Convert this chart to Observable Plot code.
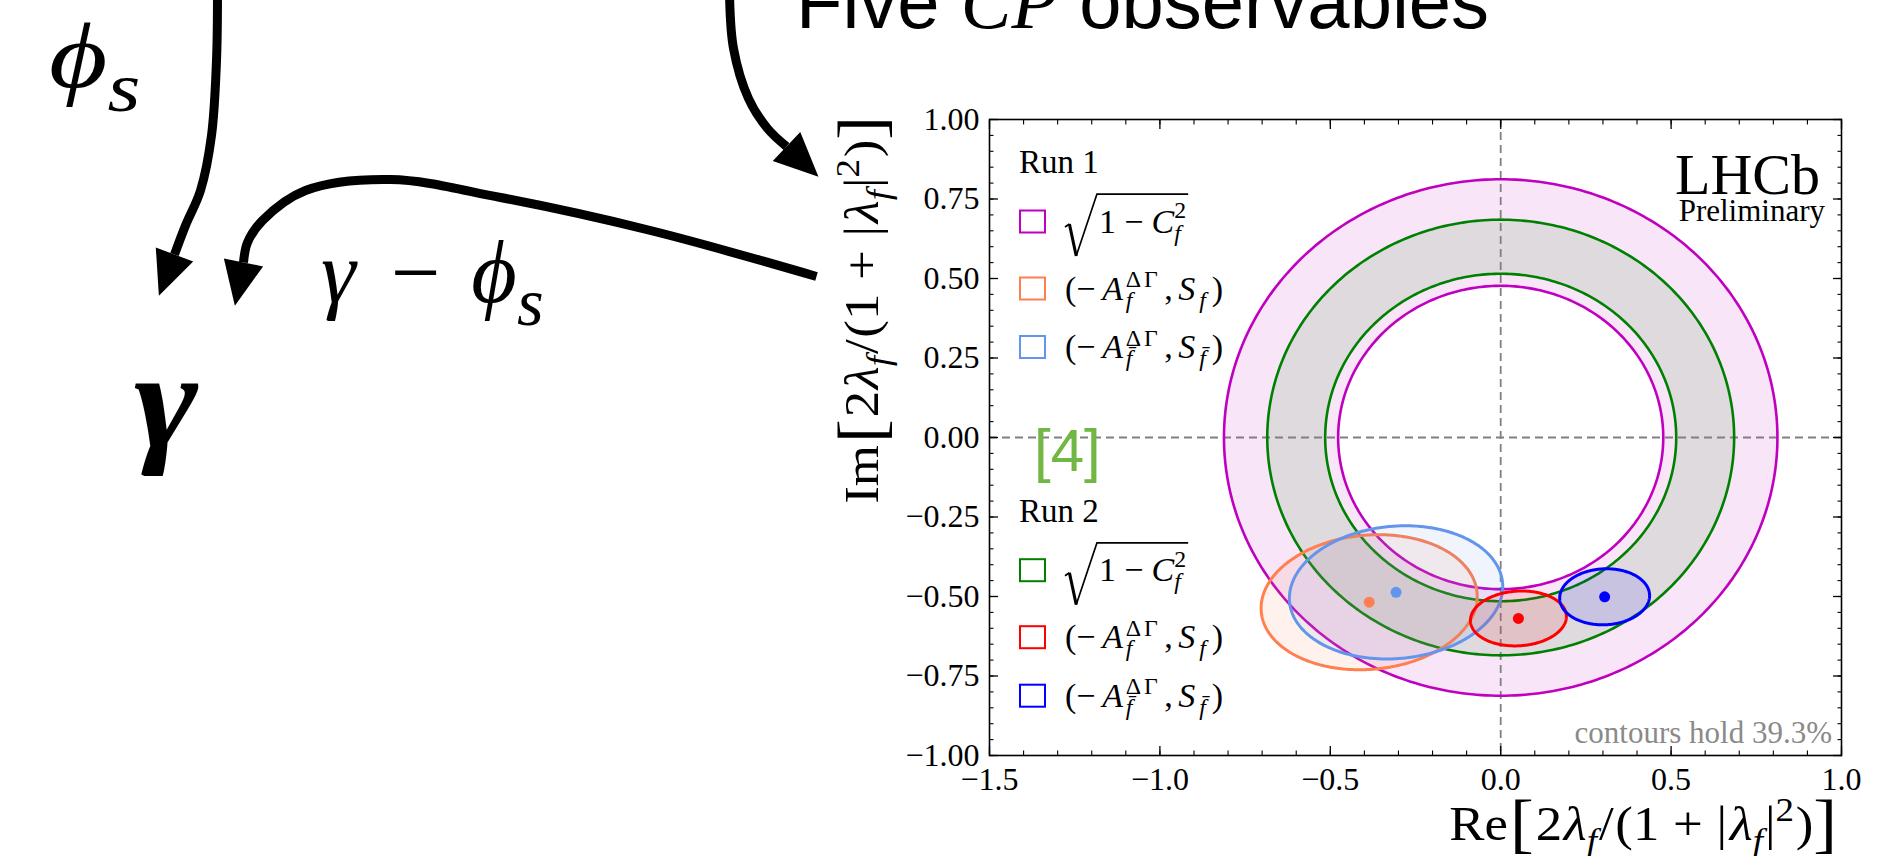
<!DOCTYPE html>
<html>
<head>
<meta charset="utf-8">
<script src="https://cdn.jsdelivr.net/npm/d3@7"></script>
<script src="https://cdn.jsdelivr.net/npm/@observablehq/plot@0.6"></script>
<style>
  html, body { margin: 0; padding: 0; background: #fff; }
  #page { position: relative; width: 1880px; height: 856px; overflow: hidden; background: #fff; }
  #page > svg { position: absolute; left: 0; top: 0; }
</style>
</head>
<body>
<div id="page"></div>
<script>
// ---- sqrt(1 - C_f^2) constraints: annuli centred on the origin ----
const ringRuns  = ["Run 1", "Run 2"];
const ringInner = [0.477, 0.515];
const ringOuter = [0.812, 0.685];
const ringColor = ["#bf00bf", "#008000"];

// ---- (−A^ΔΓ, S) contours: centre, half-widths, tilt (deg) ----
const contourNames = ["Run 1 f", "Run 1 fbar", "Run 2 f", "Run 2 fbar"];
const contourCx    = [-0.386, -0.307, 0.052, 0.305];
const contourCy    = [-0.518, -0.487, -0.569, -0.501];
const contourRx    = [0.318, 0.314, 0.141, 0.132];
const contourRy    = [0.211, 0.208, 0.086, 0.088];
const contourTilt  = [6, 6, 4, 3];
const contourColor = ["#ff7f50", "#6495ed", "#ff0000", "#0000ff"];

// ---- axis ticks ----
const xMajor = [-1.5, -1.0, -0.5, 0.0, 0.5, 1.0];
const yMajor = [-1.0, -0.75, -0.5, -0.25, 0.0, 0.25, 0.5, 0.75, 1.0];
const xMinor = d3.range(-15, 11).map(i => i / 10);
const yMinor = d3.range(-20, 21).map(i => i / 20);

// ---- hand-drawn arrows of the diagram (page pixels), each ends where its head starts ----
const arrowShafts = [
  {id: "phis",  pts: [[217, -8], [216, 60], [211, 135], [200, 190], [185, 225], [174, 254]]},
  {id: "gamma", pts: [[816, 276], [650, 230], [500, 197], [390, 179], [305, 190], [262, 220], [247, 242], [243, 262]]},
  {id: "five",  pts: [[729, -8], [733, 48], [748, 98], [767, 128], [786, 146]]}
];

const SERIF = "'Liberation Serif', 'Times New Roman', serif";
const SANS  = "'Liberation Sans', Arial, Helvetica, sans-serif";

// ---------- geometry for the marks ----------
const N = 360;
const angles = d3.range(N + 1).map(i => 2 * Math.PI * i / N);
const circle = r => angles.map(a => ({x: r * Math.cos(a), y: r * Math.sin(a)}));
const bands = ringRuns.map((run, k) => [
  ...circle(ringOuter[k]),
  ...circle(ringInner[k]).reverse()
]);
const ellipse = k => {
  const t = contourTilt[k] * Math.PI / 180;
  return angles.map(a => {
    const u = contourRx[k] * Math.cos(a), v = contourRy[k] * Math.sin(a);
    return {x: contourCx[k] + u * Math.cos(t) - v * Math.sin(t),
            y: contourCy[k] + u * Math.sin(t) + v * Math.cos(t)};
  });
};

const dashed = {stroke: "#808080", strokeWidth: 1.8, strokeDasharray: "8,5"};

const chart = Plot.plot({
  width: 1880, height: 856,
  marginLeft: 989, marginRight: 39, marginTop: 119, marginBottom: 101,
  x: {domain: [-1.5, 1.0]},
  y: {domain: [-1, 1]},
  style: {fontFamily: SERIF, fontSize: "32px", background: "transparent", color: "black", overflow: "visible"},
  marks: [
    ...bands.map((b, k) => Plot.line(b, {x: "x", y: "y", fill: ringColor[k], fillOpacity: 0.1, stroke: "none"})),
    Plot.ruleX([0], dashed),
    Plot.ruleY([0], dashed),
    ...ringRuns.flatMap((run, k) => [ringInner[k], ringOuter[k]].map(r =>
      Plot.line(circle(r), {x: "x", y: "y", stroke: ringColor[k], strokeWidth: 2.6}))),
    ...contourNames.map((name, k) => Plot.line(ellipse(k), {
      x: "x", y: "y", fill: contourColor[k], fillOpacity: 0.1, stroke: contourColor[k], strokeWidth: 3})),
    ...contourNames.map((name, k) => Plot.dot([k], {
      x: i => contourCx[i], y: i => contourCy[i], r: 5.5, fill: contourColor[k], stroke: "none"})),
    Plot.axisX({ticks: xMajor, anchor: "bottom", tickSize: -9, tickPadding: 21, tickFormat: d3.format(".1f"), label: null, strokeWidth: 1.3}),
    Plot.axisX({ticks: xMinor, anchor: "bottom", tickSize: -4.5, fill: "none", label: null, strokeWidth: 1.1}),
    Plot.axisX({ticks: xMajor, anchor: "top", tickSize: -9, fill: "none", label: null, strokeWidth: 1.3}),
    Plot.axisX({ticks: xMinor, anchor: "top", tickSize: -4.5, fill: "none", label: null, strokeWidth: 1.1}),
    Plot.axisY({ticks: yMajor, anchor: "left", tickSize: -9, tickPadding: 19, tickFormat: d3.format(".2f"), label: null, strokeWidth: 1.3}),
    Plot.axisY({ticks: yMinor, anchor: "left", tickSize: -4.5, fill: "none", label: null, strokeWidth: 1.1}),
    Plot.axisY({ticks: yMajor, anchor: "right", tickSize: -9, fill: "none", label: null, strokeWidth: 1.3}),
    Plot.axisY({ticks: yMinor, anchor: "right", tickSize: -4.5, fill: "none", label: null, strokeWidth: 1.1}),
    Plot.frame({stroke: "black", strokeWidth: 1.6})
  ]
});

// ---------- arrows of the diagram ----------
const headLength = 44, headHalf = 20;
const shaftPoints = arrowShafts.flatMap(({id, pts}) => pts.map(([x, y]) => ({id, x, y})));
const headPoints = arrowShafts.flatMap(({id, pts}) => {
  const [x1, y1] = pts[pts.length - 2], [x2, y2] = pts[pts.length - 1];
  const d = Math.hypot(x2 - x1, y2 - y1), ux = (x2 - x1) / d, uy = (y2 - y1) / d;
  return [[x2 - uy * headHalf, y2 + ux * headHalf],
          [x2 + ux * headLength, y2 + uy * headLength],
          [x2 + uy * headHalf, y2 - ux * headHalf]].map(([x, y]) => ({id, x, y}));
});

const overlay = Plot.plot({
  width: 1880, height: 856, margin: 0,
  x: {domain: [0, 1880], range: [0, 1880], axis: null},
  y: {domain: [0, 856], range: [0, 856], axis: null},
  style: {background: "transparent", overflow: "visible"},
  marks: [
    Plot.line(shaftPoints, {x: "x", y: "y", z: "id", curve: "catmull-rom", stroke: "black", strokeWidth: 9, strokeLinecap: "butt"}),
    Plot.line(headPoints, {x: "x", y: "y", z: "id", fill: "black", stroke: "none"})
  ]
});

const page = document.getElementById("page");
page.appendChild(chart);
page.appendChild(overlay);

// ---------- small typesetter for the formula labels ----------
const NS = "http://www.w3.org/2000/svg";
const ann = document.createElementNS(NS, "g");
ann.setAttribute("text-anchor", "start");
overlay.appendChild(ann);

function typeset(parent, pieces, {size, family = SERIF, fill = "black", weight = null}) {
  const g = document.createElementNS(NS, "g");
  parent.appendChild(g);
  let cx = 0;
  const put = (str, x, dy, sc, it, fam, wt, ls) => {
    const t = document.createElementNS(NS, "text");
    t.setAttribute("x", x);
    t.setAttribute("y", dy * size);
    t.setAttribute("text-anchor", "start");
    t.setAttribute("font-family", fam || family);
    t.setAttribute("font-size", sc * size);
    t.setAttribute("fill", fill);
    if (it) t.setAttribute("font-style", "italic");
    if (wt || weight) t.setAttribute("font-weight", wt || weight);
    if (ls) t.setAttribute("letter-spacing", ls);
    t.textContent = str;
    g.appendChild(t);
    return t.getComputedTextLength();
  };
  const run = list => {
    for (const p of list) {
      if (p.sqrt) {
        const x0 = cx;
        cx += 1.0 * size;
        run(p.sqrt);
        const top = -1.13 * size;
        const thin = document.createElementNS(NS, "path");
        thin.setAttribute("d", `M${x0},${-0.16 * size} L${x0 + 0.13 * size},${-0.25 * size} M${x0 + 0.33 * size},${0.69 * size} L${x0 + 0.94 * size},${top} L${cx + 0.06 * size},${top}`);
        thin.setAttribute("fill", "none");
        thin.setAttribute("stroke", fill);
        thin.setAttribute("stroke-width", 0.05 * size);
        g.appendChild(thin);
        const thick = document.createElementNS(NS, "path");
        thick.setAttribute("d", `M${x0 + 0.13 * size},${-0.25 * size} L${x0 + 0.33 * size},${0.69 * size}`);
        thick.setAttribute("stroke", fill);
        thick.setAttribute("stroke-width", 0.09 * size);
        g.appendChild(thick);
        cx += 0.06 * size;
        continue;
      }
      if (p.sup !== undefined || p.sub !== undefined) {
        const sc = p.s || 0.7;
        const x0 = cx;
        const ws = p.sup !== undefined ? put(p.sup, x0 + (p.supdx || 0) * size, p.supdy ?? -0.36, sc, p.supit, p.f, null, p.ls) + (p.supdx || 0) * size : 0;
        const wb = p.sub !== undefined ? put(p.sub, x0, p.subdy ?? 0.24, sc, true, p.f) : 0;
        cx = x0 + Math.max(ws, wb) + (p.gap || 0) * size;
        continue;
      }
      if (p.t === undefined) { cx += (p.gap || 0) * size; continue; }
      const w = put(p.t, cx, p.dy || 0, p.s || 1, p.it, p.f, p.w, p.ls);
      cx += w + (p.gap || 0) * size;
    }
  };
  run(pieces);
  return {g, width: cx};
}

function place(pieces, opts) {
  const {x, y, anchor = "start", rotate = 0, stretch = 1} = opts;
  const {g, width} = typeset(ann, pieces, opts);
  const shift = anchor === "end" ? -width : anchor === "middle" ? -width / 2 : 0;
  g.setAttribute("transform", `translate(${x},${y}) rotate(${rotate}) scale(${stretch},1) translate(${shift},0)`);
  return g;
}

// ---------- diagram labels ----------
place([{t: "Five", f: SANS}, {gap: 0.28}, {t: "CP", it: true, f: SERIF}, {gap: 0.28}, {t: "observables", f: SANS}],
      {x: 796, y: 28, size: 76, family: SANS});
place([{t: "ϕ", it: true}, {sub: "s", s: 0.75, subdy: 0.25}], {x: 49, y: 87, size: 94, stretch: 1.2});
place([{t: "γ", it: true}, {gap: 0.4}, {t: "−"}, {gap: 0.35}, {t: "ϕ", it: true}, {sub: "s", s: 0.78, subdy: 0.26}],
      {x: 321, y: 302, size: 88});
place([{t: "γ", it: true, w: "bold"}], {x: 134, y: 447, size: 138, stretch: 1.12});

// ---------- chart annotations ----------
place([{t: "[4]"}], {x: 1034, y: 471, size: 60, family: SANS, fill: "#70b743"});
place([{t: "LHCb"}], {x: 1820, y: 194, size: 58, anchor: "end"});
place([{t: "Preliminary"}], {x: 1825, y: 221, size: 31, anchor: "end"});
place([{t: "contours hold 39.3%"}], {x: 1832, y: 743, size: 31, anchor: "end", fill: "#8a8a8a"});

const ratio = [{t: "2", gap: 0.03}, {t: "λ", it: true}, {sub: "f", gap: 0.04}, {t: "/", gap: 0.03}, {t: "("}, {t: "1"}, {gap: 0.26}, {t: "+"}, {gap: 0.26},
               {t: "|", gap: 0.05}, {t: "λ", it: true}, {sub: "f", gap: 0.04}, {t: "|"}, {sup: "2", supdy: -0.4, gap: 0.03}, {t: ")"}];
const bigOpen = {t: "[", s: 1.35, dy: 0.1, gap: 0.04}, bigClose = {t: "]", s: 1.35, dy: 0.1};
place([{t: "Re", gap: 0.04}, bigOpen, ...ratio, bigClose],
      {x: 1837, y: 840, size: 48, anchor: "end", stretch: 1.1});
place([{t: "Im", gap: 0.04}, bigOpen, ...ratio, bigClose],
      {x: 878, y: 116, size: 48, anchor: "end", rotate: -90, stretch: 1.1});

// ---------- legend ----------
const legendHeaders = ["Run 1", "Run 2"];
const legendHeaderY = [173, 521.7];
const legendRowOffset = [48.5, 115.5, 174];
const legendEntries = [
  [{sqrt: [{t: "1"}, {gap: 0.24}, {t: "−"}, {gap: 0.24}, {t: "C", it: true}, {sup: "2", sub: "f", supdy: -0.42}]}],
  [{t: "(−", gap: 0.2}, {t: "A", it: true, gap: 0.08}, {sup: "ΔΓ", sub: "f", ls: 3, gap: 0.1}, {t: ",", gap: 0.16},
   {t: "S", it: true, gap: 0.12}, {sub: "f", gap: 0.17}, {t: ")"}],
  [{t: "(−", gap: 0.2}, {t: "A", it: true, gap: 0.08}, {sup: "ΔΓ", sub: "f̄", ls: 3, gap: 0.1}, {t: ",", gap: 0.16},
   {t: "S", it: true, gap: 0.12}, {sub: "f̄", gap: 0.17}, {t: ")"}]
];
legendHeaders.forEach((h, k) => {
  place([{t: h}], {x: 1019, y: legendHeaderY[k], size: 33});
  const colors = [ringColor[k], contourColor[2 * k], contourColor[2 * k + 1]];
  legendEntries.forEach((entry, j) => {
    const cy = legendHeaderY[k] + legendRowOffset[j];
    const box = document.createElementNS(NS, "rect");
    box.setAttribute("x", 1020); box.setAttribute("y", cy - 11);
    box.setAttribute("width", 25); box.setAttribute("height", 22);
    box.setAttribute("fill", "none"); box.setAttribute("stroke", colors[j]); box.setAttribute("stroke-width", 2);
    ann.appendChild(box);
    place(entry, {x: 1065, y: cy + 11, size: 34});
  });
});
</script>
</body>
</html>
